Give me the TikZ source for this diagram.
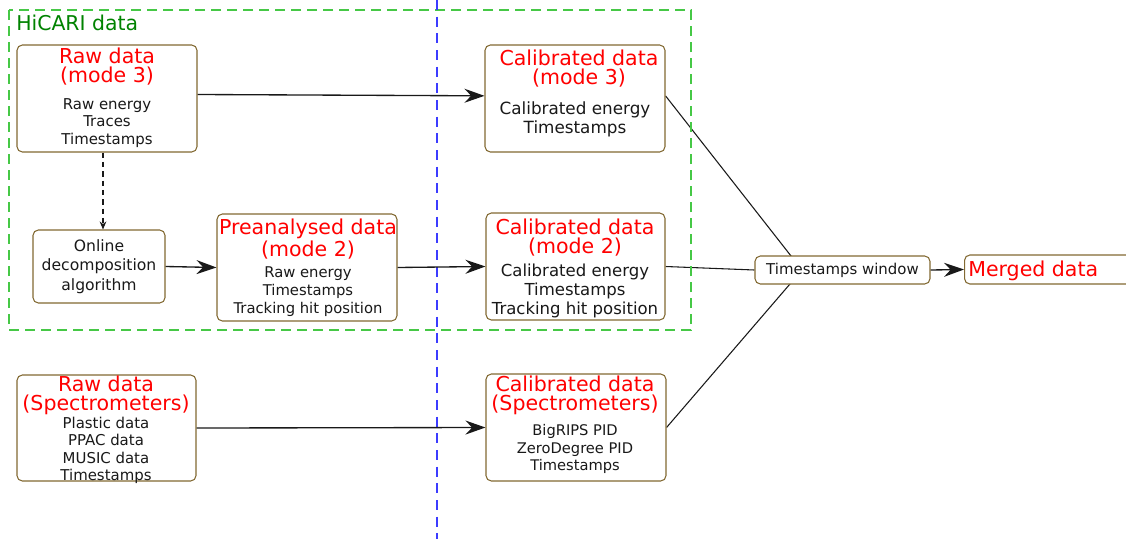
\documentclass[tikz,border=0pt]{standalone}
\usepackage{fontspec}
\setmainfont{DejaVu Sans}
\usetikzlibrary{arrows.meta,backgrounds,calc}
\definecolor{boxc}{RGB}{130,105,50}
\definecolor{txt}{RGB}{25,25,25}
\definecolor{gbox}{RGB}{70,200,70}
\definecolor{gtxt}{RGB}{0,130,0}
\definecolor{bline}{RGB}{60,60,255}
\begin{document}
\begin{tikzpicture}[x=0.75pt,y=-0.75pt,
  box/.style={draw=boxc, line width=0.8pt, rounded corners=4pt, fill=white, inner sep=0pt, minimum width=135pt, minimum height=80.25pt},
  ttl/.style={text=red, align=center, inner sep=0pt, font=\fontsize{15.4}{14.3}\selectfont},
  bdy/.style={text=txt, align=center, inner sep=0pt},
  arr/.style={-{Stealth[length=15pt,width=10.5pt,inset=5pt]}, line width=1pt, draw=txt},
  ln/.style={line width=0.8pt, draw=txt}]
\useasboundingbox (0,0) rectangle (1126,539);
\clip (0,0) rectangle (1126,539);

% boxes
\node[box] (r3) at (107,98.5) {};
\node[ttl] (r3t) at (107,67) {Raw data\\(mode 3)};
\node[bdy, font=\fontsize{11.2}{13.1}\selectfont] (r3b) at (107,123) {Raw energy\\Traces\\Timestamps};

\node[box] (c3) at (575,98.5) {};
\node[ttl] (c3t) at (579,69) {Calibrated data\\(mode 3)};
\node[bdy, font=\fontsize{12.6}{14.25}\selectfont] (c3b) at (575,119) {Calibrated energy\\Timestamps};

\node[box, minimum width=99pt, minimum height=54.75pt, font=\fontsize{11.7}{14.6}\selectfont, text=txt, align=center] (on) at (99,266.5) {Online\\decomposition\\algorithm};

\node[box] (pre) at (307,267.5) {};
\node[ttl] (pret) at (308,239) {Preanalysed data\\(mode 2)};
\node[bdy, font=\fontsize{11.1}{13.5}\selectfont] (preb) at (308,291.5) {Raw energy\\Timestamps\\Tracking hit position};

\node[box, minimum width=134.25pt] (c2) at (575.5,266.5) {};
\node[ttl] (c2t) at (575,238) {Calibrated data\\(mode 2)};
\node[bdy, font=\fontsize{12.4}{14.25}\selectfont] (c2b) at (575,290.5) {Calibrated energy\\Timestamps\\Tracking hit position};

\node[box, minimum width=134.25pt, minimum height=79.5pt] (rs) at (106.5,428) {};
\node[ttl] (rst) at (106,395.5) {Raw data\\(Spectrometers)};
\node[bdy, font=\fontsize{11.2}{13}\selectfont] (rsb) at (106,450.5) {Plastic data\\PPAC data\\MUSIC data\\Timestamps};

\node[box] (cs) at (576,427.5) {};
\node[ttl] (cst) at (575,395.5) {Calibrated data\\(Spectrometers)};
\node[bdy, font=\fontsize{11}{13.1}\selectfont] (csb) at (575,449) {BigRIPS PID\\ZeroDegree PID\\Timestamps};

\node[box, minimum width=131.25pt, minimum height=21pt, text=txt, font=\fontsize{11.2}{13}\selectfont] (ts) at (842.5,270) {Timestamps window};

\node[box, minimum width=150pt, minimum height=21.75pt, anchor=west] (mg) at (964,269.5) {};
\node[text=red, anchor=west, inner sep=0pt, font=\fontsize{15.4}{13.5}\selectfont] (mgt) at (968,271) {Merged data};

\node[text=gtxt, anchor=west, inner sep=0pt, font=\fontsize{15.3}{13.5}\selectfont] (hic) at (16,23) {HiCARI data};

% connectors
\draw[arr] ([yshift=3pt]r3.east) -- ([yshift=2pt]c3.west);
\draw[line width=0.8pt, draw=txt, dash pattern=on 4pt off 3pt, -{Stealth[length=6pt,width=5pt]}] ([xshift=-3pt]r3.south) -- ([xshift=-3pt]r3.south |- on.north);
\draw[arr] (on.east) -- (pre.west);
\draw[arr] (pre.east) -- (c2.west);
\draw[arr] (rs.east) -- (cs.west);
\draw[arr] (ts.east) -- (mg.west);

\begin{scope}[on background layer]
  \coordinate (hub) at (802,270);
  \draw[ln] ([yshift=2pt]c3.east) -- (hub);
  \draw[ln] (cs.east) -- (hub);
  \draw[ln] (c2.east) -- (ts.west);
  \draw[gbox, line width=1.1pt, dash pattern=on 7.5pt off 4.5pt] (9,10) rectangle (691,330);
  \coordinate (btop) at (437,0);
  \coordinate (bbot) at (437,539);
  \draw[bline, line width=1.1pt, dash pattern=on 7.5pt off 5pt] (btop) -- (bbot);
\end{scope}
\end{tikzpicture}
\end{document}
